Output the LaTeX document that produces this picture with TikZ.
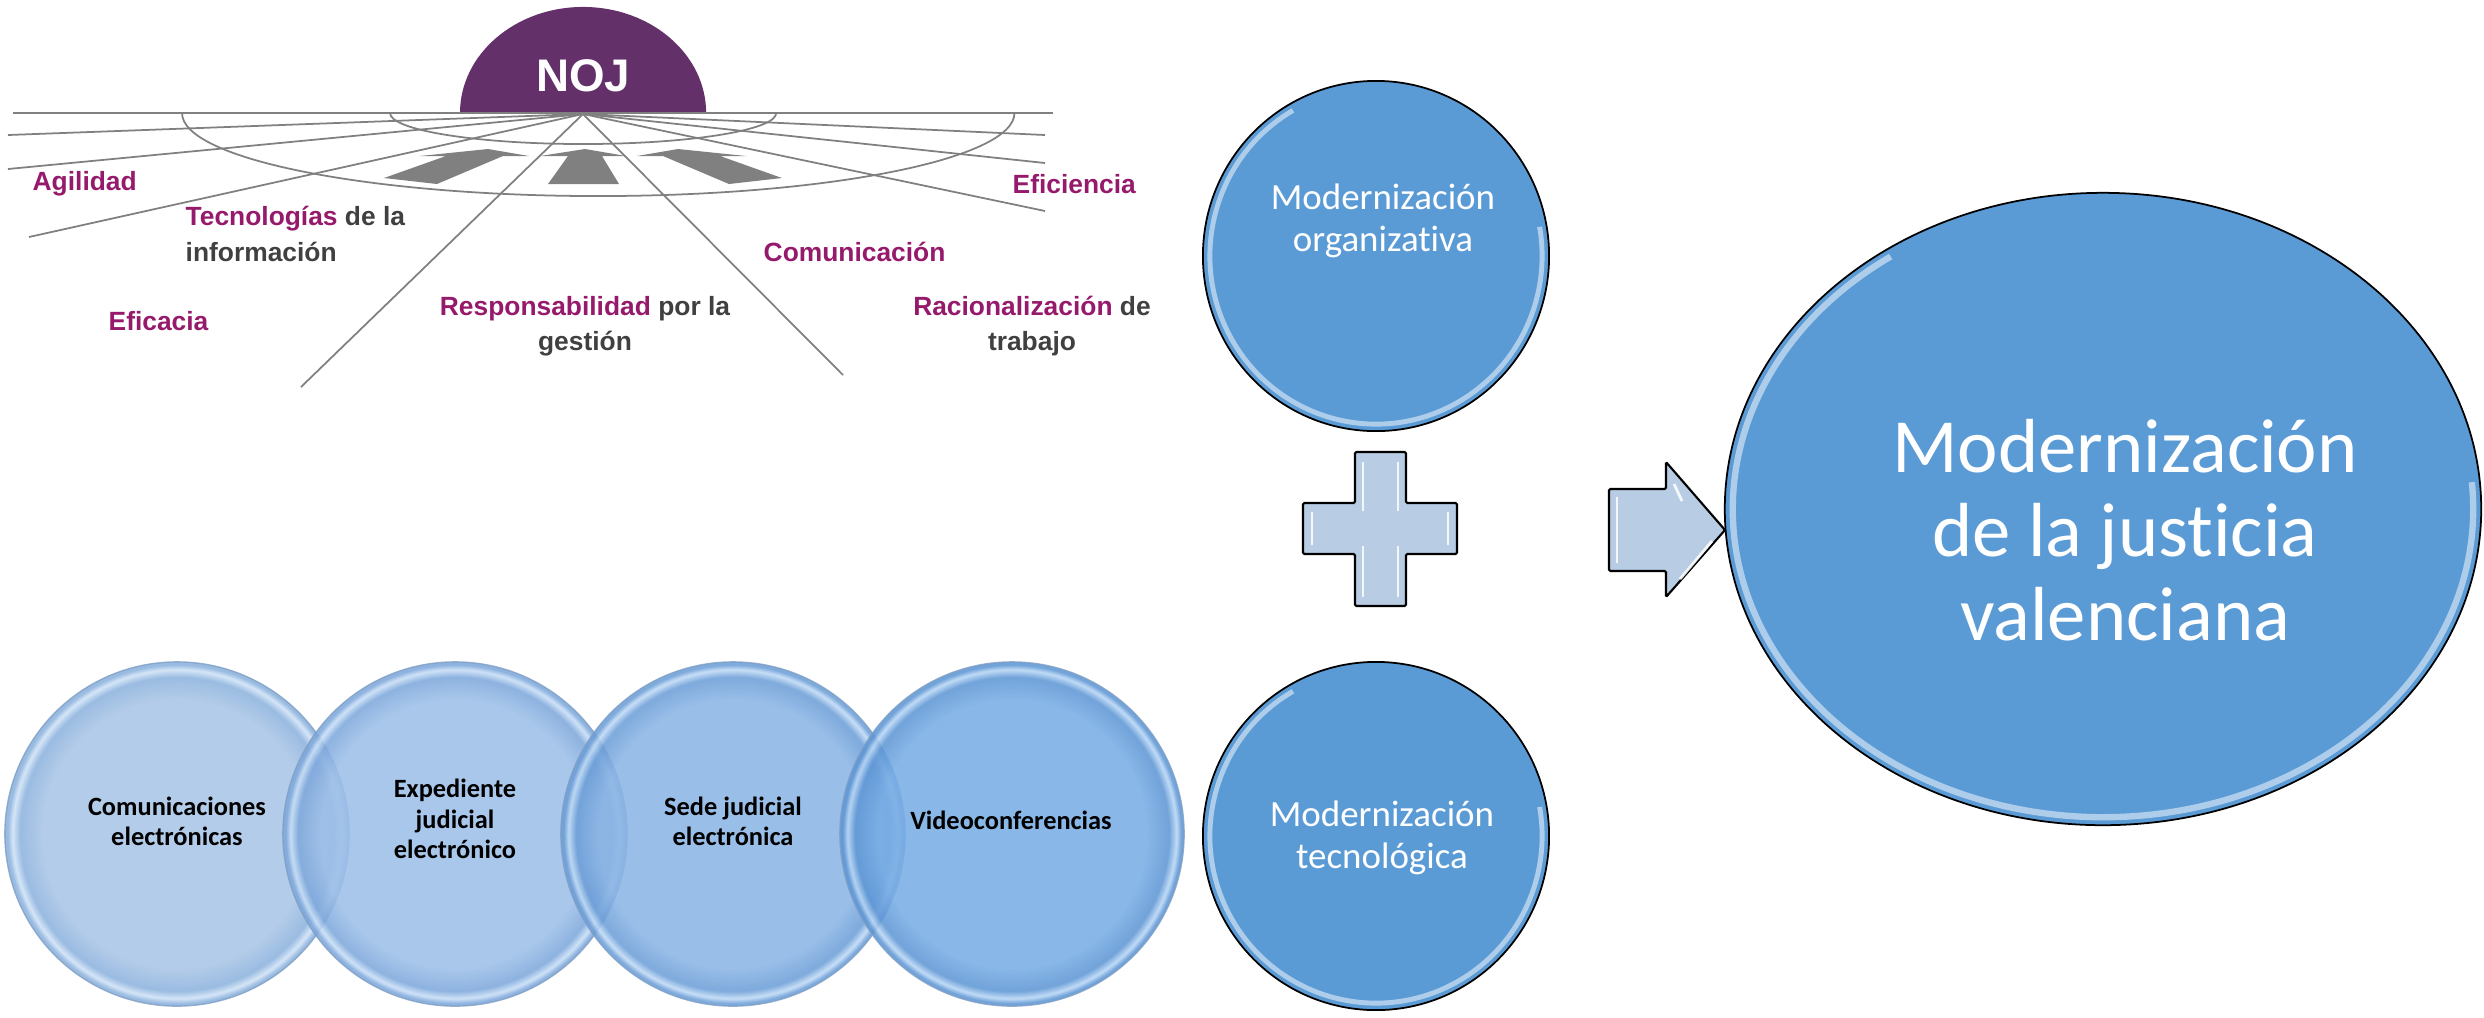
\documentclass[tikz,border=0pt]{standalone}
\usepackage{fontspec}
\setmainfont{Liberation Sans}
\newfontfamily\carlito[Ligatures=NoCommon]{Carlito}
\usetikzlibrary{shapes.geometric}
\definecolor{nojpurple}{HTML}{63306A}
\definecolor{labpurple}{HTML}{961A6C}
\definecolor{labgray}{HTML}{404040}
\definecolor{fangray}{HTML}{808080}
\definecolor{modblue}{HTML}{5B9BD5}
\definecolor{shapeblue}{HTML}{B8CCE4}
\definecolor{ringedge}{HTML}{7E9EC4}
\definecolor{cAin}{HTML}{A9C5E6}\definecolor{cArim}{HTML}{8CB2DD}\definecolor{cAhi}{HTML}{CFE2F6}
\definecolor{cBin}{HTML}{9DBFE8}\definecolor{cBrim}{HTML}{7EA8DB}\definecolor{cBhi}{HTML}{C8DEF6}
\definecolor{cCin}{HTML}{8BB5E5}\definecolor{cCrim}{HTML}{6C9ED7}\definecolor{cChi}{HTML}{C0DAF5}
\definecolor{cDin}{HTML}{78ADE5}\definecolor{cDrim}{HTML}{5E96D4}\definecolor{cDhi}{HTML}{B8D6F5}
\pgfdeclareradialshading{glassA}{\pgfpoint{0bp}{0bp}}{color(0bp)=(cAin); color(19.5bp)=(cAin); color(22.8bp)=(cArim); color(23.9bp)=(cAhi); color(24.6bp)=(cArim); color(25bp)=(cArim); color(50bp)=(cArim)}
\pgfdeclareradialshading{glassB}{\pgfpoint{0bp}{0bp}}{color(0bp)=(cBin); color(19.5bp)=(cBin); color(22.8bp)=(cBrim); color(23.9bp)=(cBhi); color(24.6bp)=(cBrim); color(25bp)=(cBrim); color(50bp)=(cBrim)}
\pgfdeclareradialshading{glassC}{\pgfpoint{0bp}{0bp}}{color(0bp)=(cCin); color(19.5bp)=(cCin); color(22.8bp)=(cCrim); color(23.9bp)=(cChi); color(24.6bp)=(cCrim); color(25bp)=(cCrim); color(50bp)=(cCrim)}
\pgfdeclareradialshading{glassD}{\pgfpoint{0bp}{0bp}}{color(0bp)=(cDin); color(19.5bp)=(cDin); color(22.8bp)=(cDrim); color(23.9bp)=(cDhi); color(24.6bp)=(cDrim); color(25bp)=(cDrim); color(50bp)=(cDrim)}
\begin{document}
\begin{tikzpicture}[x=0.01cm,y=-0.01cm,
  fanline/.style={draw=fangray, line width=0.5pt},
  fanarrow/.style={fill=fangray},
  fanlab/.style={font=\fontsize{7.5}{10}\selectfont\bfseries, text=labgray, inner sep=0pt},
  glasscirc/.style={circle, minimum size=3.44cm, inner sep=0pt, shade, fill opacity=0.88, draw=ringedge, draw opacity=0.8, line width=0.4pt},
  circlab/.style={font=\carlito\bfseries\fontsize{7.5}{8.6}\selectfont, align=center, text=black, inner sep=0pt},
  modcirc/.style={ellipse, draw=black, line width=0.5pt, fill=modblue, inner sep=0pt},
  modlab/.style={font=\carlito\fontsize{10.5}{12}\selectfont, text=white, align=center, inner sep=0pt},
  rimlight/.style={draw=white, draw opacity=0.5, line width=1.4pt},
  blockshape/.style={fill=shapeblue, draw=black, line width=0.6pt, rounded corners=0.4pt},
  bevel/.style={draw=white, draw opacity=0.85, line width=0.8pt}
]
\useasboundingbox (0,0) rectangle (2484,1017);

% ---------------- NOJ fan ----------------
\fill[nojpurple] (460,113) arc[start angle=180, end angle=0, x radius=1.23cm, y radius=1.06cm] -- cycle;
\node[font=\bfseries\fontsize{13}{13}\selectfont, text=white] (noj) at (583,76) {NOJ};

\coordinate (fc) at (583,114);
\coordinate (hl) at (13,113);
\coordinate (hr) at (1053,113);
\coordinate (e1) at (8,135);
\coordinate (e2) at (8,169);
\coordinate (e3) at (29,237);
\coordinate (e4) at (301,387);
\coordinate (e5) at (1045,135);
\coordinate (e6) at (1045,163);
\coordinate (e7) at (1045,211);
\coordinate (e8) at (843,375);

\draw[fanline] (390,113) arc[start angle=180, end angle=360, x radius=1.93cm, y radius=0.31cm];
\draw[fanline] (182,113) arc[start angle=180, end angle=360, x radius=4.16cm, y radius=0.83cm];
\draw[fanline] (hl) -- (hr);
\foreach \e in {e1,e2,e3,e4,e5,e6,e7,e8} \draw[fanline] (fc) -- (\e);

\fill[fanarrow] (540,156) -- (585,149) -- (626,156) -- (602,156) -- (619,184) -- (548,184) -- (568,156) -- cycle;
\fill[fanarrow] (420,156) -- (488,149) -- (529,156) -- (503,156) -- (437,184) -- (384,178) -- (446,156) -- cycle;
\fill[fanarrow] (746,156) -- (678,149) -- (637,156) -- (663,156) -- (729,184) -- (782,178) -- (720,156) -- cycle;

\node[fanlab, anchor=west, text=labpurple] (agil) at (32,184) {Agilidad};
\node[fanlab, anchor=west, text=labpurple] (efic) at (1012,184) {Eficiencia};
\node[fanlab, anchor=west, align=left] (tecn) at (185,234) {{\color{labpurple}Tecnologías} de la\\información};
\node[fanlab, anchor=west, text=labpurple] (comu) at (763,252) {Comunicación};
\node[fanlab, anchor=west, text=labpurple] (efca) at (108,321) {Eficacia};
\node[fanlab, align=center] (resp) at (585,326) {{\color{labpurple}Responsabilidad} por la\\gestión};
\node[fanlab, align=center] (raci) at (1032,326) {{\color{labpurple}Racionalización} de\\trabajo};

% ---------------- bottom glass circles ----------------
\node[glasscirc, shading=glassA] (c1) at (177,834) {};
\node[glasscirc, shading=glassB] (c2) at (455,834) {};
\node[glasscirc, shading=glassC] (c3) at (733,834) {};
\node[glasscirc, shading=glassD] (c4) at (1012,834) {};
\node[circlab] (t1) at (177,821) {Comunicaciones\\electrónicas};
\node[circlab] (t2) at (455,819) {Expediente\\judicial\\electrónico};
\node[circlab] (t3) at (733,821) {Sede judicial\\electrónica};
\node[circlab] (t4) at (1011,820) {Videoconferencias};

% ---------------- modernization circles ----------------
\node[modcirc, minimum width=3.46cm, minimum height=3.50cm] (morg) at (1376,256) {};
\draw[rimlight] (morg.center) ++(120:1.66cm and 1.68cm) arc[start angle=120, end angle=370, x radius=1.66cm, y radius=1.68cm];
\node[modlab] (morgt) at (1383,221) {Modernización\\organizativa};

\node[modcirc, minimum width=3.46cm, minimum height=3.48cm] (mtec) at (1376,836) {};
\draw[rimlight] (mtec.center) ++(120:1.66cm and 1.67cm) arc[start angle=120, end angle=370, x radius=1.66cm, y radius=1.67cm];
\node[modlab] (mtect) at (1382,838) {Modernización\\tecnológica};

\node[modcirc, minimum width=7.56cm, minimum height=6.32cm] (mjus) at (2103,509) {};
\draw[rimlight, line width=1.8pt] (mjus.center) ++(125:3.70cm and 3.08cm) arc[start angle=125, end angle=365, x radius=3.70cm, y radius=3.08cm];
\node[modlab, font=\carlito\fontsize{21.8}{23.9}\selectfont] (mjust) at (2125,530) {Modernización\\de la justicia\\valenciana};

% ---------------- plus sign ----------------
\path[blockshape] (1355,452) -- (1406,452) -- (1406,503) -- (1457,503) -- (1457,554) -- (1406,554) -- (1406,606) -- (1355,606) -- (1355,554) -- (1303,554) -- (1303,503) -- (1355,503) -- cycle;
\draw[bevel] (1363,462) -- (1363,511);
\draw[bevel] (1398,462) -- (1398,511);
\draw[bevel] (1363,546) -- (1363,597);
\draw[bevel] (1398,546) -- (1398,597);
\draw[bevel] (1312,512) -- (1312,545);
\draw[bevel] (1448,512) -- (1448,545);

% ---------------- arrow ----------------
\path[blockshape] (1609,489) -- (1666,489) -- (1666,462) -- (1725,530) -- (1666,597) -- (1666,571) -- (1609,571) -- cycle;
\draw[bevel] (1617,497) -- (1617,563);
\draw[bevel] (1680,579) -- (1712,541);
\draw[bevel] (1674,484) -- (1682,501);
\end{tikzpicture}
\end{document}
